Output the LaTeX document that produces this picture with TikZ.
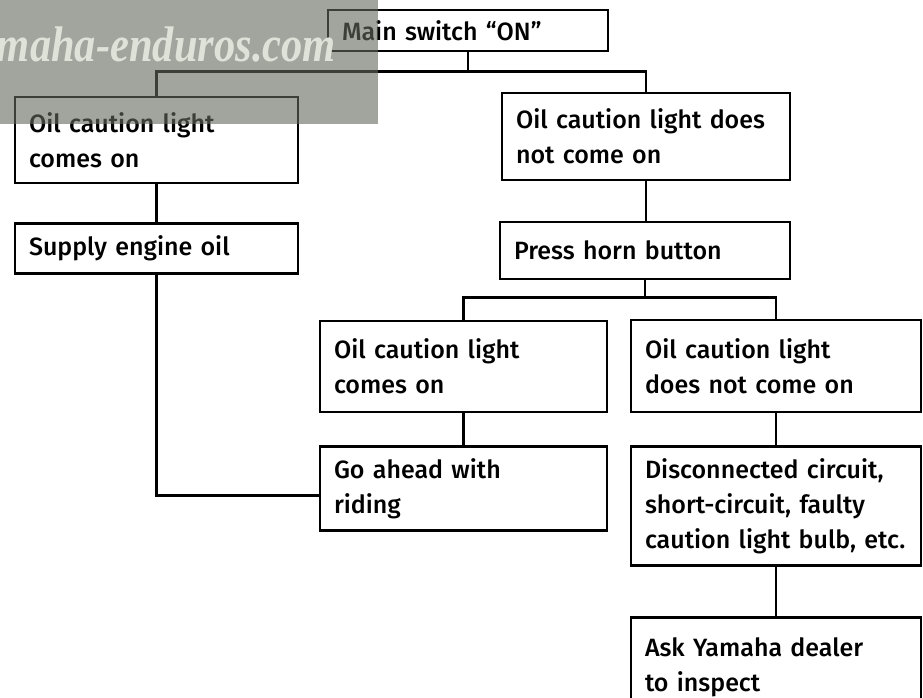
\documentclass[tikz,border=0pt]{standalone}
\usepackage{fontspec}
\setmainfont{Fira Sans}
\newfontfamily\boxfont[Ligatures=TeX]{Fira Sans Medium}
\newfontfamily\markfont{Liberation Serif}
\usetikzlibrary{positioning}
\definecolor{markgrey}{RGB}{100,106,94}
\definecolor{marktext}{RGB}{222,226,216}

\begin{document}
\begin{tikzpicture}[
    x=1pt, y=-1pt,
    node distance=38pt,
    box/.style={draw, line width=2.6pt, inner xsep=14pt, inner ysep=0pt, text width=#1, align=left, font=\boxfont\fontsize{25}{35}\selectfont},
    box/.default=259pt,
    link/.style={line width=2.6pt}
]
   \clip (0,0) rectangle (923,698);
   \fill[white] (0,0) rectangle (923,698);

   % Boxes
   \node[box=252pt, minimum height=41pt] (main) at (468,30.5) {Main switch ``ON''};
   \node[box=255pt, minimum height=86pt] (on) at (156.5,140) {Oil caution light\\comes on};
   \node[box=260pt, minimum height=87pt] (off) at (646,136.5) {Oil caution light does\\not come on};
   \node[box=255pt, minimum height=50pt] (oil) [below=of on] {Supply engine oil};
   \node[box=262pt, minimum height=57pt] (horn) at (645,250.5) {Press horn button};
   \node[box, minimum height=91pt] (on2) at (463.5,366.5) {Oil caution light\\comes on};
   \node[box=262pt, minimum height=92pt] (off2) at (776,366) {Oil caution light\\does not come on};
   \node[box, minimum height=84pt] (ride) [below=32pt of on2] {Go ahead with\\riding};
   \node[box=262pt, minimum height=119pt] (fault) [below=32pt of off2] {Disconnected circuit,\\short-circuit, faulty\\caution light bulb, etc.};
   \node[box=262pt, minimum height=100pt] (dealer) [below=49pt of fault] {Ask Yamaha dealer\\to inspect};

   % Links
   \draw[link] (main.south) -- ++(0,19.5) coordinate (split1);
   \draw[link] (split1) -| (on.north);
   \draw[link] (split1) -| (off.north);
   \draw[link] (on) -- (oil);
   \draw[link] (off.south) -- (off.south |- horn.north);
   \draw[link] (horn.south) -- ++(0,17) coordinate (split2);
   \draw[link] (split2) -| (on2.north);
   \draw[link] (split2) -| (off2.north);
   \draw[link] (on2) -- (ride);
   \draw[link] (off2) -- (fault);
   \draw[link] (fault) -- (dealer);
   \draw[link] (oil.south) |- ([yshift=-7pt]ride.west);

   % Watermark
   \fill[markgrey, opacity=0.6] (0,0) rectangle (378,124);
   \node[anchor=base east, text=marktext, font=\markfont\fontsize{50}{50}\selectfont\bfseries\itshape, xscale=0.85, inner sep=0pt] (mark) at (336,62) {yamaha-enduros.com};
\end{tikzpicture}
\end{document}
